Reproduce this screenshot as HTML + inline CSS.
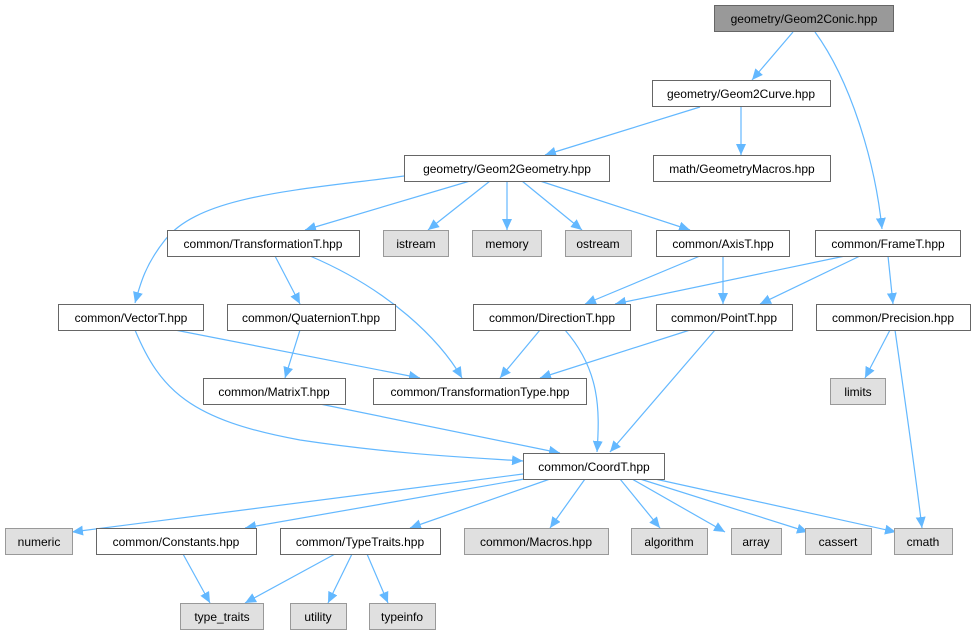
<!DOCTYPE html>
<html><head><meta charset="utf-8"><style>
html,body{margin:0;padding:0;background:#fff;}
svg{display:block;}
text{font-family:"Liberation Sans",Arial,sans-serif;font-size:12px;fill:#000;}
</style></head><body>
<svg width="976" height="635" viewBox="0 0 976 635" xmlns="http://www.w3.org/2000/svg">
<defs>
<marker id="a" markerUnits="userSpaceOnUse" markerWidth="12" markerHeight="10" refX="11" refY="5" orient="auto">
<path d="M0,0 L11,5 L0,10 Z" fill="#63b8ff"/>
</marker>
</defs>
<g fill="none" stroke="#63b8ff" stroke-width="1.2" marker-end="url(#a)">
<path d="M793,32 L752,80"/>
<path d="M815,32 C850,80 875,160 882,229"/>
<path d="M700,107 L545,155"/>
<path d="M741,107 L741,155"/>
<path d="M470,181 L305,230"/>
<path d="M490,181 L428,230"/>
<path d="M507,181 L507,230"/>
<path d="M522,181 L582,230"/>
<path d="M540,181 L690,230"/>
<path d="M404,176 C300,190 200,195 165,240 C145,265 140,285 135,303"/>
<path d="M275,256 L300,304"/>
<path d="M310,256 C390,290 440,340 462,378"/>
<path d="M300,330 L285,378"/>
<path d="M175,330 L420,378"/>
<path d="M135,330 C160,390 190,420 300,440 C400,455 480,458 523,461"/>
<path d="M320,404 L560,453"/>
<path d="M540,330 L500,378"/>
<path d="M565,330 C600,370 600,410 597,452"/>
<path d="M690,330 L540,378"/>
<path d="M715,330 L610,452"/>
<path d="M700,256 L585,304"/>
<path d="M723,256 L723,304"/>
<path d="M845,256 L615,304"/>
<path d="M860,256 L760,304"/>
<path d="M888,256 L893,304"/>
<path d="M890,330 L865,378"/>
<path d="M895,330 C905,400 915,470 922,528"/>
<path d="M523,474 L72,532"/>
<path d="M530,478 L245,528"/>
<path d="M550,479 L410,528"/>
<path d="M585,479 L550,528"/>
<path d="M620,479 L660,528"/>
<path d="M632,479 L725,532"/>
<path d="M640,479 L808,532"/>
<path d="M655,479 L896,532"/>
<path d="M183,554 L210,603"/>
<path d="M335,554 L245,603"/>
<path d="M352,554 L328,603"/>
<path d="M367,554 L388,603"/>
</g>
<g stroke-width="1">
<!-- x,y,w,h -->
<rect x="714.5" y="5.5" width="179" height="26" fill="#999999" stroke="#666"/>
<rect x="652.5" y="80.5" width="178" height="26" fill="#fff" stroke="#666"/>
<rect x="404.5" y="155.5" width="205" height="26" fill="#fff" stroke="#666"/>
<rect x="653.5" y="155.5" width="177" height="26" fill="#fff" stroke="#666"/>
<rect x="167.5" y="230.5" width="192" height="26" fill="#fff" stroke="#666"/>
<rect x="383.5" y="230.5" width="65" height="26" fill="#e0e0e0" stroke="#999"/>
<rect x="472.5" y="230.5" width="69" height="26" fill="#e0e0e0" stroke="#999"/>
<rect x="565.5" y="230.5" width="66" height="26" fill="#e0e0e0" stroke="#999"/>
<rect x="656.5" y="230.5" width="133" height="26" fill="#fff" stroke="#666"/>
<rect x="815.5" y="230.5" width="145" height="26" fill="#fff" stroke="#666"/>
<rect x="58.5" y="304.5" width="145" height="26" fill="#fff" stroke="#666"/>
<rect x="227.5" y="304.5" width="168" height="26" fill="#fff" stroke="#666"/>
<rect x="473.5" y="304.5" width="157" height="26" fill="#fff" stroke="#666"/>
<rect x="656.5" y="304.5" width="136" height="26" fill="#fff" stroke="#666"/>
<rect x="816.5" y="304.5" width="154" height="26" fill="#fff" stroke="#666"/>
<rect x="203.5" y="378.5" width="142" height="26" fill="#fff" stroke="#666"/>
<rect x="373.5" y="378.5" width="213" height="26" fill="#fff" stroke="#666"/>
<rect x="830.5" y="378.5" width="55" height="26" fill="#e0e0e0" stroke="#999"/>
<rect x="523.5" y="453.5" width="141" height="26" fill="#fff" stroke="#666"/>
<rect x="5.5" y="528.5" width="67" height="26" fill="#e0e0e0" stroke="#999"/>
<rect x="96.5" y="528.5" width="160" height="26" fill="#fff" stroke="#666"/>
<rect x="280.5" y="528.5" width="160" height="26" fill="#fff" stroke="#666"/>
<rect x="464.5" y="528.5" width="144" height="26" fill="#e0e0e0" stroke="#999"/>
<rect x="631.5" y="528.5" width="76" height="26" fill="#e0e0e0" stroke="#999"/>
<rect x="731.5" y="528.5" width="50" height="26" fill="#e0e0e0" stroke="#999"/>
<rect x="805.5" y="528.5" width="66" height="26" fill="#e0e0e0" stroke="#999"/>
<rect x="894.5" y="528.5" width="58" height="26" fill="#e0e0e0" stroke="#999"/>
<rect x="180.5" y="603.5" width="83" height="26" fill="#e0e0e0" stroke="#999"/>
<rect x="290.5" y="603.5" width="56" height="26" fill="#e0e0e0" stroke="#999"/>
<rect x="369.5" y="603.5" width="66" height="26" fill="#e0e0e0" stroke="#999"/>
</g>
<g text-anchor="middle">
<text x="804" y="23">geometry/Geom2Conic.hpp</text>
<text x="741" y="98">geometry/Geom2Curve.hpp</text>
<text x="507" y="173">geometry/Geom2Geometry.hpp</text>
<text x="742" y="173">math/GeometryMacros.hpp</text>
<text x="263" y="248">common/TransformationT.hpp</text>
<text x="416" y="248">istream</text>
<text x="507" y="248">memory</text>
<text x="598" y="248">ostream</text>
<text x="723" y="248">common/AxisT.hpp</text>
<text x="888" y="248">common/FrameT.hpp</text>
<text x="131" y="322">common/VectorT.hpp</text>
<text x="311" y="322">common/QuaternionT.hpp</text>
<text x="552" y="322">common/DirectionT.hpp</text>
<text x="724" y="322">common/PointT.hpp</text>
<text x="893" y="322">common/Precision.hpp</text>
<text x="274" y="396">common/MatrixT.hpp</text>
<text x="480" y="396">common/TransformationType.hpp</text>
<text x="858" y="396">limits</text>
<text x="594" y="471">common/CoordT.hpp</text>
<text x="39" y="546">numeric</text>
<text x="176" y="546">common/Constants.hpp</text>
<text x="360" y="546">common/TypeTraits.hpp</text>
<text x="536" y="546">common/Macros.hpp</text>
<text x="669" y="546">algorithm</text>
<text x="756" y="546">array</text>
<text x="838" y="546">cassert</text>
<text x="923" y="546">cmath</text>
<text x="222" y="621">type_traits</text>
<text x="318" y="621">utility</text>
<text x="402" y="621">typeinfo</text>
</g>
</svg>
</body></html>
